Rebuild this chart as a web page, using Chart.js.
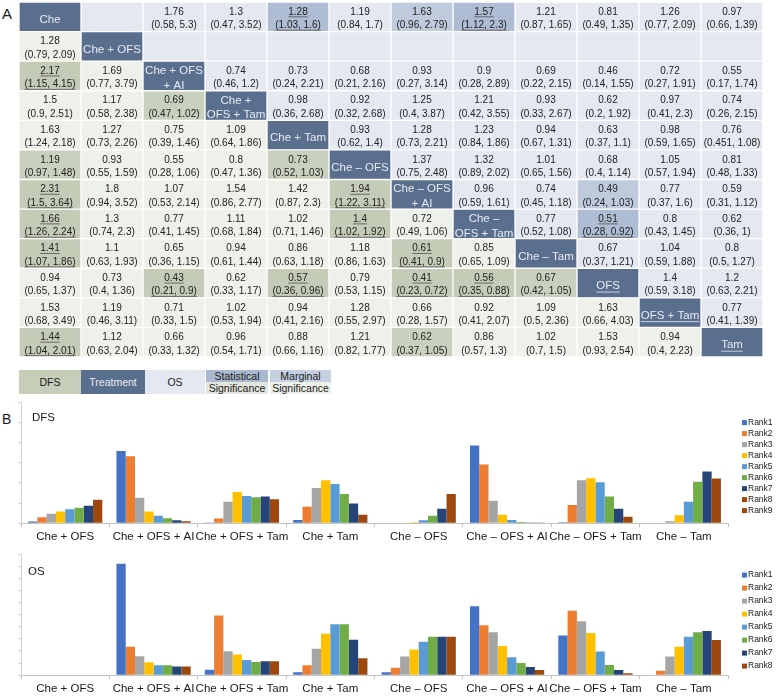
<!DOCTYPE html>
<html>
<head>
<meta charset="utf-8">
<script src="https://cdn.jsdelivr.net/npm/chart.js@4.4.1/dist/chart.umd.min.js"></script>
<style>
  body { margin: 0; width: 777px; height: 697px; overflow: hidden; background: #fff; font-family: "Liberation Sans", Arial, sans-serif; color: #1a1a1a; }
  .box { position: absolute; }
  .lbl { position: absolute; line-height: 1; }
  .key { position: absolute; top: 370px; height: 24px; font-size: 10.5px; display: flex; align-items: center; justify-content: center; }
  .half { position: absolute; left: 0; width: 100%; height: 12px; font-size: 10.5px; text-align: center; line-height: 13px; white-space: nowrap; }
</style>
</head>
<body>
<div class="lbl" style="left:2px;top:6px;font-size:15px;">A</div>
<div class="box" style="left:0;top:0;width:777px;height:362px;"><canvas id="league"></canvas></div>

<div class="key" style="left:19px;width:62px;background:#c6cdb9;">DFS</div>
<div class="key" style="left:81px;width:64px;background:#5a6e8e;color:#e8ecf3;">Treatment</div>
<div class="key" style="left:145px;width:60px;background:#e4e8f0;">OS</div>
<div class="key" style="left:206px;width:62px;">
  <div class="half" style="top:0;background:#aab9cf;">Statistical</div>
  <div class="half" style="top:12px;background:#e2e5de;">Significance</div>
</div>
<div class="key" style="left:270px;width:61px;">
  <div class="half" style="top:0;background:#c5d0e1;">Marginal</div>
  <div class="half" style="top:12px;background:#eef0ea;">Significance</div>
</div>

<div class="lbl" style="left:2px;top:412px;font-size:14px;">B</div>
<div class="box" style="left:0;top:395px;width:777px;height:155px;"><canvas id="dfs"></canvas></div>
<div class="lbl" style="left:32px;top:412px;font-size:11.5px;">DFS</div>
<div class="box" style="left:0;top:548px;width:777px;height:151px;"><canvas id="os"></canvas></div>
<div class="lbl" style="left:28px;top:566px;font-size:11.5px;">OS</div>

<script>
// treatments on the diagonal of the league table
const treatments = ['Che', 'Che + OFS', 'Che + OFS + AI', 'Che + OFS + Tam', 'Che + Tam', 'Che \u2013 OFS',
  'Che \u2013 OFS + AI', 'Che \u2013 OFS + Tam', 'Che \u2013 Tam', 'OFS', 'OFS + Tam', 'Tam'];
const treatmentLines = [['Che'], ['Che + OFS'], ['Che + OFS', '+ AI'], ['Che +', 'OFS + Tam'], ['Che + Tam'], ['Che \u2013 OFS'],
  ['Che \u2013 OFS', '+ AI'], ['Che \u2013', 'OFS + Tam'], ['Che \u2013 Tam'], ['OFS'], ['OFS + Tam'], ['Tam']];
const underlinedTreatments = [9, 10, 11];

// HR (95% CI); lower triangle = DFS, upper triangle = OS, null = no estimate
const leagueTable = [
  ['', null, '1.76 (0.58, 5.3)', '1.3 (0.47, 3.52)', '1.28 (1.03, 1.6)', '1.19 (0.84, 1.7)', '1.63 (0.96, 2.79)', '1.57 (1.12, 2.3)', '1.21 (0.87, 1.65)', '0.81 (0.49, 1.35)', '1.26 (0.77, 2.09)', '0.97 (0.66, 1.39)'],
  ['1.28 (0.79, 2.09)', '', null, null, null, null, null, null, null, null, null, null],
  ['2.17 (1.15, 4.15)', '1.69 (0.77, 3.79)', '', '0.74 (0.46, 1.2)', '0.73 (0.24, 2.21)', '0.68 (0.21, 2.16)', '0.93 (0.27, 3.14)', '0.9 (0.28, 2.89)', '0.69 (0.22, 2.15)', '0.46 (0.14, 1.55)', '0.72 (0.27, 1.91)', '0.55 (0.17, 1.74)'],
  ['1.5 (0.9, 2.51)', '1.17 (0.58, 2.38)', '0.69 (0.47, 1.02)', '', '0.98 (0.36, 2.68)', '0.92 (0.32, 2.68)', '1.25 (0.4, 3.87)', '1.21 (0.42, 3.55)', '0.93 (0.33, 2.67)', '0.62 (0.2, 1.92)', '0.97 (0.41, 2.3)', '0.74 (0.26, 2.15)'],
  ['1.63 (1.24, 2.18)', '1.27 (0.73, 2.26)', '0.75 (0.39, 1.46)', '1.09 (0.64, 1.86)', '', '0.93 (0.62, 1.4)', '1.28 (0.73, 2.21)', '1.23 (0.84, 1.86)', '0.94 (0.67, 1.31)', '0.63 (0.37, 1.1)', '0.98 (0.59, 1.65)', '0.76 (0.451, 1.08)'],
  ['1.19 (0.97, 1.48)', '0.93 (0.55, 1.59)', '0.55 (0.28, 1.06)', '0.8 (0.47, 1.36)', '0.73 (0.52, 1.03)', '', '1.37 (0.75, 2.48)', '1.32 (0.89, 2.02)', '1.01 (0.65, 1.56)', '0.68 (0.4, 1.14)', '1.05 (0.57, 1.94)', '0.81 (0.48, 1.33)'],
  ['2.31 (1.5, 3.64)', '1.8 (0.94, 3.52)', '1.07 (0.53, 2.14)', '1.54 (0.86, 2.77)', '1.42 (0.87, 2.3)', '1.94 (1.22, 3.11)', '', '0.96 (0.59, 1.61)', '0.74 (0.45, 1.18)', '0.49 (0.24, 1.03)', '0.77 (0.37, 1.6)', '0.59 (0.31, 1.12)'],
  ['1.66 (1.26, 2.24)', '1.3 (0.74, 2.3)', '0.77 (0.41, 1.45)', '1.11 (0.68, 1.84)', '1.02 (0.71, 1.46)', '1.4 (1.02, 1.92)', '0.72 (0.49, 1.06)', '', '0.77 (0.52, 1.08)', '0.51 (0.28, 0.92)', '0.8 (0.43, 1.45)', '0.62 (0.36, 1)'],
  ['1.41 (1.07, 1.86)', '1.1 (0.63, 1.93)', '0.65 (0.36, 1.15)', '0.94 (0.61, 1.44)', '0.86 (0.63, 1.18)', '1.18 (0.86, 1.63)', '0.61 (0.41, 0.9)', '0.85 (0.65, 1.09)', '', '0.67 (0.37, 1.21)', '1.04 (0.59, 1.88)', '0.8 (0.5, 1.27)'],
  ['0.94 (0.65, 1.37)', '0.73 (0.4, 1.36)', '0.43 (0.21, 0.9)', '0.62 (0.33, 1.17)', '0.57 (0.36, 0.96)', '0.79 (0.53, 1.15)', '0.41 (0.23, 0.72)', '0.56 (0.35, 0.88)', '0.67 (0.42, 1.05)', '', '1.4 (0.59, 3.18)', '1.2 (0.63, 2.21)'],
  ['1.53 (0.68, 3.49)', '1.19 (0.46, 3.11)', '0.71 (0.33, 1.5)', '1.02 (0.53, 1.94)', '0.94 (0.41, 2.16)', '1.28 (0.55, 2.97)', '0.66 (0.28, 1.57)', '0.92 (0.41, 2.07)', '1.09 (0.5, 2.36)', '1.63 (0.66, 4.03)', '', '0.77 (0.41, 1.39)'],
  ['1.44 (1.04, 2.01)', '1.12 (0.63, 2.04)', '0.66 (0.33, 1.32)', '0.96 (0.54, 1.71)', '0.88 (0.66, 1.16)', '1.21 (0.82, 1.77)', '0.62 (0.37, 1.05)', '0.86 (0.57, 1.3)', '1.02 (0.7, 1.5)', '1.53 (0.93, 2.54)', '0.94 (0.4, 2.23)', '']
];
// [row, col] of highlighted cells
const statSig = [[0, 4], [0, 7], [2, 0], [6, 0], [7, 0], [8, 0], [11, 0], [6, 5], [7, 5], [8, 6], [9, 2], [9, 4], [9, 6], [9, 7], [7, 9]];
const margSig = [[0, 6], [3, 2], [5, 0], [5, 4], [6, 9], [9, 8], [11, 6]];

// rank probabilities, one array per rank across the categories
const rankCategories = ['Che + OFS', 'Che + OFS + AI', 'Che + OFS + Tam', 'Che + Tam', 'Che \u2013 OFS', 'Che \u2013 OFS + AI', 'Che \u2013 OFS + Tam', 'Che \u2013 Tam'];
const dfsRank1 = [0.008, 0.358, 0.001, 0.016, 0, 0.385, 0.005, 0];
const dfsRank2 = [0.029, 0.331, 0.023, 0.081, 0, 0.290, 0.090, 0];
const dfsRank3 = [0.047, 0.126, 0.106, 0.174, 0, 0.111, 0.213, 0.010];
const dfsRank4 = [0.058, 0.058, 0.155, 0.213, 0.005, 0.042, 0.223, 0.039];
const dfsRank5 = [0.069, 0.037, 0.135, 0.194, 0.015, 0.016, 0.203, 0.106];
const dfsRank6 = [0.077, 0.024, 0.129, 0.145, 0.037, 0.006, 0.132, 0.205];
const dfsRank7 = [0.087, 0.015, 0.132, 0.097, 0.071, 0.003, 0.071, 0.256];
const dfsRank8 = [0.116, 0.010, 0.119, 0.042, 0.145, 0.001, 0.032, 0.221];
const osRank1 = [null, 0.920, 0.045, 0.024, 0.024, 0.568, 0.328, 0.003];
const osRank2 = [null, 0.235, 0.493, 0.083, 0.061, 0.413, 0.531, 0.037];
const osRank3 = [null, 0.157, 0.197, 0.219, 0.155, 0.355, 0.445, 0.155];
const osRank4 = [null, 0.107, 0.171, 0.341, 0.213, 0.240, 0.349, 0.235];
const osRank5 = [null, 0.083, 0.125, 0.421, 0.277, 0.149, 0.195, 0.317];
const osRank6 = [null, 0.083, 0.109, 0.421, 0.317, 0.101, 0.085, 0.355];
const osRank7 = [null, 0.072, 0.115, 0.293, 0.317, 0.067, 0.043, 0.365];
const osRank8 = [null, 0.072, 0.115, 0.139, 0.317, 0.043, 0.016, 0.291];
const dfsLegend = ['Rank1', 'Rank2', 'Rank3', 'Rank4', 'Rank5', 'Rank6', 'Rank7', 'Rank8', 'Rank9'];
const osLegend = ['Rank1', 'Rank2', 'Rank3', 'Rank4', 'Rank5', 'Rank6', 'Rank7', 'Rank8'];

const rankColors = ['#4472c4', '#ed7d31', '#a5a5a5', '#ffc000', '#5b9bd5', '#70ad47', '#264478', '#9e480e', '#9e480e'];

Chart.defaults.font.family = '"Liberation Sans", Arial, sans-serif';
Chart.defaults.color = '#1a1a1a';

const inList = (list, r, c) => list.some(p => p[0] === r && p[1] === c);
function cellColor(r, c) {
  if (r === c) return '#5a6e8e';
  const sig = inList(statSig, r, c), marg = inList(margSig, r, c);
  if (c > r) return sig ? '#aebdd3' : marg ? '#bfcadc' : '#e4e8f0';
  return sig ? '#c4cbb6' : marg ? '#c9d0bd' : '#eef0ea';
}

// writes the HR text and the treatment names into the cells
const cellText = {
  id: 'cellText',
  afterDatasetsDraw(chart) {
    const ctx = chart.ctx;
    ctx.save();
    ctx.textAlign = 'center';
    ctx.textBaseline = 'middle';
    chart.data.datasets.forEach((ds, c) => {
      chart.getDatasetMeta(c).data.forEach((el, r) => {
        const p = el.getProps(['x', 'y', 'base', 'height'], true);
        const cx = (p.x + p.base) / 2, cy = p.y;
        if (r === c) {
          ctx.save();
          ctx.beginPath();
          ctx.rect(Math.min(p.x, p.base), cy - p.height / 2, Math.abs(p.x - p.base), p.height);
          ctx.clip();
          ctx.font = '11.5px "Liberation Sans", Arial, sans-serif';
          ctx.fillStyle = '#e8ecf3';
          ctx.strokeStyle = '#e8ecf3';
          const lines = treatmentLines[r];
          const ys = lines.length === 1 ? [cy + 3] : [cy - 5, cy + 9.5];
          lines.forEach((t, i) => {
            ctx.fillText(t, cx, ys[i]);
            if (underlinedTreatments.includes(r)) {
              const w = ctx.measureText(t).width;
              ctx.lineWidth = 0.8;
              ctx.beginPath();
              ctx.moveTo(cx - w / 2, ys[i] + 6);
              ctx.lineTo(cx + w / 2, ys[i] + 6);
              ctx.stroke();
            }
          });
          ctx.restore();
          return;
        }
        const txt = leagueTable[r][c];
        if (!txt) return;
        const cut = txt.indexOf(' (');
        const lines = [txt.slice(0, cut), txt.slice(cut + 1)];
        const ys = [cy - 4.8, cy + 8.6];
        ctx.font = '10px "Liberation Sans", Arial, sans-serif';
        ctx.fillStyle = '#222';
        ctx.strokeStyle = '#444';
        lines.forEach((t, i) => {
          ctx.fillText(t, cx, ys[i]);
          if (inList(statSig, r, c)) {
            const w = ctx.measureText(t).width;
            ctx.lineWidth = 0.7;
            ctx.beginPath();
            ctx.moveTo(cx - w / 2, ys[i] + 4.8);
            ctx.lineTo(cx + w / 2, ys[i] + 4.8);
            ctx.stroke();
          }
        });
      });
    });
    ctx.restore();
  }
};

new Chart(document.getElementById('league'), {
  type: 'bar',
  data: {
    labels: treatments,
    datasets: treatments.map((t, c) => ({
      label: t,
      data: treatments.map(() => [c, c + 1]),
      backgroundColor: treatments.map((_, r) => cellColor(r, c)),
      borderColor: '#ffffff',
      borderWidth: 1,
      borderSkipped: false,
      grouped: false,
      categoryPercentage: 1,
      barPercentage: 1
    }))
  },
  options: {
    indexAxis: 'y',
    responsive: true,
    maintainAspectRatio: false,
    animation: false,
    events: [],
    layout: { padding: { left: 19, right: 14, top: 2, bottom: 5 } },
    scales: {
      x: { type: 'linear', min: 0, max: treatments.length, display: false },
      y: { type: 'category', display: false }
    },
    plugins: { legend: { display: false }, tooltip: { enabled: false } }
  },
  plugins: [cellText]
});

// small legend at the right of each rank chart
const sideLegend = {
  id: 'sideLegend',
  afterDraw(chart, args, opts) {
    const { ctx, chartArea } = chart;
    const n = opts.labels.length;
    let y = (chartArea.top + chartArea.bottom) / 2 - (n - 1) * opts.step / 2 + opts.shift;
    ctx.save();
    ctx.font = '8.5px "Liberation Sans", Arial, sans-serif';
    ctx.textBaseline = 'middle';
    ctx.textAlign = 'left';
    opts.labels.forEach((name, i) => {
      ctx.fillStyle = opts.colors[i];
      ctx.fillRect(chartArea.right + 14, y - 2.5, 5, 5);
      ctx.fillStyle = '#1a1a1a';
      ctx.fillText(name, chartArea.right + 20, y);
      y += opts.step;
    });
    ctx.restore();
  }
};

function rankChart(id, series, legendNames, maxY, pad, legendStep, legendShift) {
  return new Chart(document.getElementById(id), {
    type: 'bar',
    data: {
      labels: rankCategories,
      datasets: series.map((d, i) => ({
        label: legendNames[i],
        data: d,
        backgroundColor: rankColors[i],
        borderWidth: 0,
        categoryPercentage: 0.84,
        barPercentage: 1
      }))
    },
    options: {
      responsive: true,
      maintainAspectRatio: false,
      animation: false,
      events: [],
      layout: { padding: pad },
      scales: {
        x: {
          grid: { drawOnChartArea: false, drawTicks: true, tickLength: 4, color: '#c4c4c4', offset: true },
          border: { display: true, color: '#c4c4c4' },
          ticks: { font: { size: 11.5 }, color: '#1a1a1a', padding: 3, maxRotation: 0, autoSkip: false }
        },
        y: {
          min: 0, max: maxY,
          ticks: { display: false, stepSize: 0.1 },
          grid: { drawOnChartArea: false, tickLength: 3, color: '#d0d0d0' },
          border: { display: true, color: '#d0d0d0' }
        }
      },
      plugins: {
        legend: { display: false },
        tooltip: { enabled: false },
        sideLegend: { labels: legendNames, colors: rankColors, step: legendStep, shift: legendShift }
      }
    },
    plugins: [sideLegend]
  });
}

rankChart('dfs', [dfsRank1, dfsRank2, dfsRank3, dfsRank4, dfsRank5, dfsRank6, dfsRank7, dfsRank8], dfsLegend, 0.6,
  { left: 18, right: 49, top: 7, bottom: 3 }, 11, 4);
rankChart('os', [osRank1, osRank2, osRank3, osRank4, osRank5, osRank6, osRank7, osRank8], osLegend, 1.0,
  { left: 18, right: 49, top: 6, bottom: 0 }, 13, 6);
</script>
</body>
</html>
